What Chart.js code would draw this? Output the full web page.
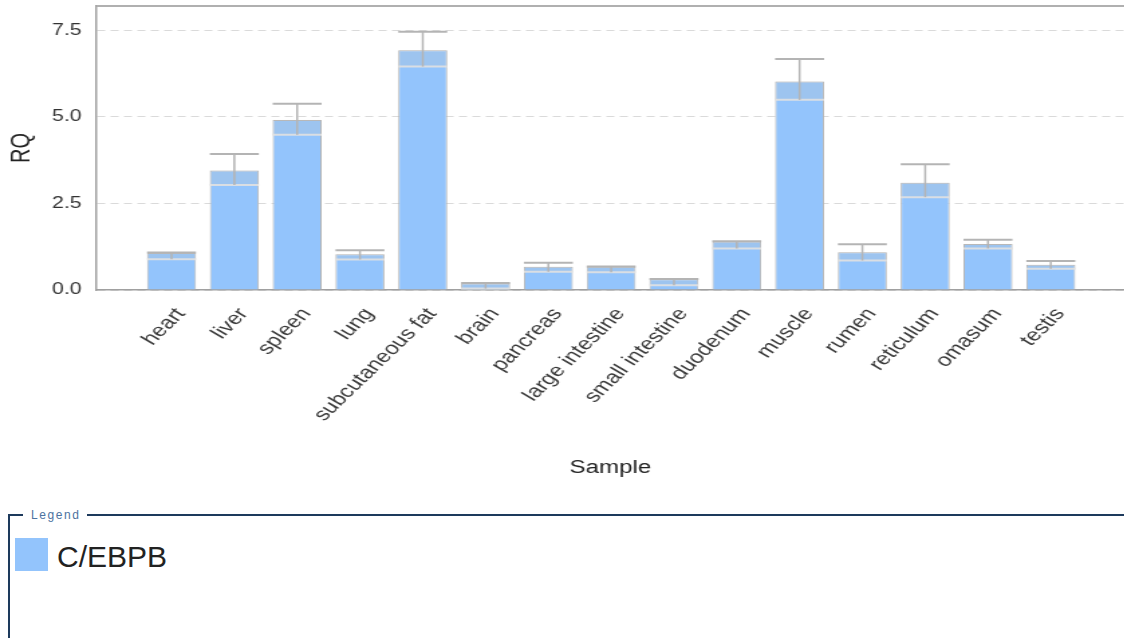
<!DOCTYPE html>
<html>
<head>
<meta charset="utf-8">
<script src="https://cdn.jsdelivr.net/npm/chart.js@4.4.1/dist/chart.umd.min.js"></script>
<style>
  body { margin: 0; background: #fff; overflow: hidden; font-family: "Liberation Sans", Arial, sans-serif; }
  #wrap { position: absolute; left: 0; top: 0; width: 839px; height: 490px; transform: scaleX(1.34); transform-origin: 0 0; }
  fieldset { position: absolute; left: 8px; top: 508px; width: 1200px; height: 200px; margin: 0; padding: 0; border: 2px solid #1d3a5c; }
  legend { font-size: 12px; line-height: 14px; letter-spacing: 1.6px; color: #4d73a0; margin-left: 13px; padding: 0 6px 0 8px; }
  #swatch { position: absolute; left: 15px; top: 538px; width: 33px; height: 33px; }
  #seriesLabel { position: absolute; left: 57px; top: 542px; font-size: 30px; line-height: 30px; color: #222; }
</style>
</head>
<body>
<div id="wrap"><canvas id="chart" width="839" height="490"></canvas></div>
<fieldset><legend>Legend</legend></fieldset>
<div id="swatch"></div>
<div id="seriesLabel"></div>
<script>
const samples = ['heart', 'liver', 'spleen', 'lung', 'subcutaneous fat', 'brain', 'pancreas',
  'large intestine', 'small intestine', 'duodenum', 'muscle', 'rumen', 'reticulum', 'omasum', 'testis'];
const rq    = [1.07, 3.45, 4.91, 1.03, 6.92, 0.19, 0.67, 0.67, 0.31, 1.40, 6.02, 1.09, 3.10, 1.33, 0.73];
const rqMin = [0.89, 3.03, 4.48, 0.88, 6.45, 0.04, 0.53, 0.51, 0.14, 1.20, 5.49, 0.85, 2.68, 1.20, 0.61];
const rqMax = [1.08, 3.93, 5.38, 1.15, 7.46, 0.20, 0.79, 0.68, 0.32, 1.41, 6.67, 1.32, 3.63, 1.45, 0.84];
const yTicks = [0, 2.5, 5.0, 7.5];
const seriesName = 'C/EBPB';
const barColor = '#93c4fc';

document.getElementById('swatch').style.background = barColor;
document.getElementById('seriesLabel').textContent = seriesName;

// error bars: shaded band down to RQmin, whisker up to RQmax
const errorBars = {
    id: 'errorBars',
    afterDatasetsDraw(chart) {
        const ctx = chart.ctx;
        const y = chart.scales.y;
        const meta = chart.getDatasetMeta(0);
        ctx.save();
        meta.data.forEach((bar, i) => {
            const half = bar.width / 2;
            const yv = y.getPixelForValue(rq[i]);
            const ylo = y.getPixelForValue(rqMin[i]);
            const yhi = y.getPixelForValue(rqMax[i]);
            ctx.fillStyle = 'rgba(195,195,195,0.22)';
            ctx.fillRect(bar.x - half, yv, bar.width, ylo - yv);
            ctx.strokeStyle = 'rgba(225,225,225,0.9)';
            ctx.lineWidth = 2;
            ctx.beginPath();
            ctx.moveTo(bar.x - half, ylo);
            ctx.lineTo(bar.x + half, ylo);
            ctx.stroke();
            ctx.strokeStyle = '#b4b4b4';
            ctx.lineWidth = 1.5;
            ctx.beginPath();
            ctx.moveTo(bar.x, yhi);
            ctx.lineTo(bar.x, ylo);
            ctx.stroke();
            ctx.lineWidth = 2;
            ctx.beginPath();
            ctx.moveTo(bar.x - half, yhi);
            ctx.lineTo(bar.x + half, yhi);
            ctx.stroke();
        });
        ctx.restore();
    }
};

const topFrame = {
    id: 'topFrame',
    afterDraw(chart) {
        const {ctx, chartArea} = chart;
        ctx.save();
        ctx.strokeStyle = '#b0b0b0';
        ctx.lineWidth = 2;
        ctx.beginPath();
        ctx.moveTo(chartArea.left, chartArea.top);
        ctx.lineTo(chartArea.right, chartArea.top);
        ctx.stroke();
        ctx.restore();
    }
};

new Chart(document.getElementById('chart'), {
    type: 'bar',
    data: {
        datasets: [{
            label: seriesName,
            data: samples.map((s, i) => ({x: i, y: rq[i]})),
            backgroundColor: barColor,
            borderColor: '#b5b5b5',
            borderWidth: 1,
            barPercentage: 0.78,
            categoryPercentage: 1
        }]
    },
    options: {
        responsive: false,
        animation: false,
        layout: { padding: { top: 6, right: 0, left: 0, bottom: 0 } },
        plugins: {
            legend: { display: false },
            tooltip: { enabled: false }
        },
        scales: {
            x: {
                type: 'linear',
                offset: false,
                min: -1.195,
                max: 15.17,
                afterBuildTicks: s => { s.ticks = samples.map((_, i) => ({value: i})); },
                afterFit: s => { s.height = 200; s.paddingLeft = 0; s.paddingRight = 0; },
                ticks: {
                    autoSkip: false,
                    minRotation: 52,
                    maxRotation: 52,
                    callback: v => samples[v],
                    font: { family: 'Liberation Sans', size: 18 },
                    color: '#3a3a3a',
                    padding: 6,
                    labelOffset: 7
                },
                grid: { display: false, offset: false },
                border: { color: '#a0a0a0', width: 1.5 },
                title: {
                    display: true,
                    text: 'Sample',
                    font: { family: 'Liberation Sans', size: 18 },
                    color: '#222',
                    padding: { top: 0, bottom: 11 }
                }
            },
            y: {
                min: 0,
                max: 8.2,
                afterBuildTicks: s => { s.ticks = yTicks.map(v => ({value: v})); },
                afterFit: s => { s.width = 72; s.paddingTop = 0; s.paddingBottom = 0; },
                ticks: {
                    callback: v => v.toFixed(1),
                    font: { family: 'Liberation Sans', size: 16 },
                    color: '#333',
                    padding: 11
                },
                grid: { color: '#dadada', drawTicks: false, lineWidth: 1 },
                border: { color: '#a0a0a0', width: 1.5, dash: [6, 4] },
                title: {
                    display: true,
                    text: 'RQ',
                    font: { family: 'Liberation Sans', size: 20 },
                    color: '#222',
                    padding: { top: 4, bottom: 0 }
                }
            }
        }
    },
    plugins: [errorBars, topFrame]
});
</script>
</body>
</html>
